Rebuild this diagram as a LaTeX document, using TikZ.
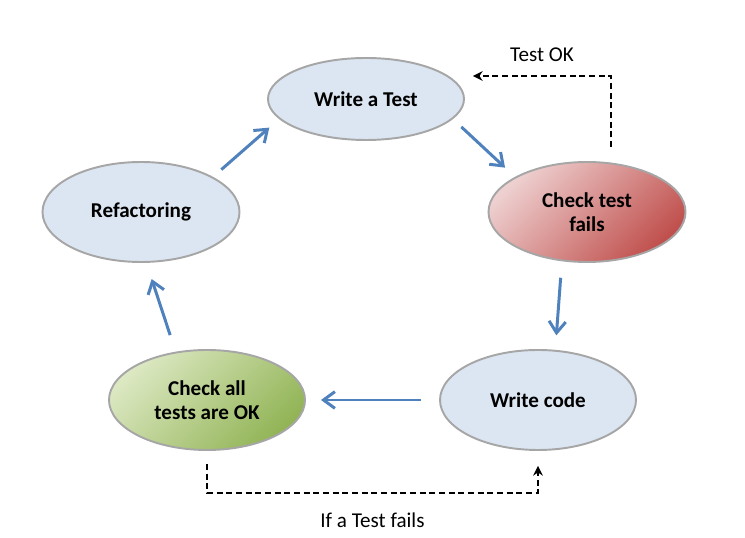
\documentclass[tikz,border=0pt]{standalone}
\usepackage{fontspec}
\setmainfont{Carlito}
\usetikzlibrary{shapes.geometric}
\usetikzlibrary{arrows.meta}
\definecolor{cycfill}{RGB}{220,230,242}
\definecolor{cycline}{RGB}{166,166,166}
\definecolor{flowblue}{RGB}{79,129,189}
\definecolor{redtop}{RGB}{238,208,208}
\definecolor{redbot}{RGB}{192,80,77}
\definecolor{greentop}{RGB}{220,232,194}
\definecolor{greenbot}{RGB}{146,180,86}
\tikzset{% 
    cyc/.style={ellipse,draw=cycline,line width=1.1pt,fill=cycfill,inner sep=0pt,minimum width=3.94cm,minimum height=2cm,align=center,font=\fontsize{12}{14}\selectfont\bfseries}
}

\begin{document}
\begin{tikzpicture}[font=\fontsize{12}{14}\selectfont,
    flw/.style={draw=flowblue,line width=1.7pt,-{Straight Barb[length=6.5pt,width=9.5pt]}},
    dsh/.style={line width=1.3pt,dash pattern=on 3.5pt off 2pt,-{Stealth[length=5.5pt,width=5.5pt]}}]
        \useasboundingbox (0,0) rectangle (14.9,10.74);
        \node[cyc,minimum width=3.92cm,minimum height=1.64cm] (1) at (7.32,8.76){Write a Test};
        \node[cyc,top color=redtop,bottom color=redbot,shading angle=45] (2) at (11.74,6.50){Check test\\fails};
        \node[cyc,minimum width=3.92cm] (3) at (10.76,2.74){Write code};
        \node[cyc,minimum width=3.92cm,top color=greentop,bottom color=greenbot,shading angle=45] (4) at (4.14,2.74){Check all\\tests are OK};
        \node[cyc] (5) at (2.82,6.50){Refactoring};

        \path[]
            (5.26) edge[flw,shorten <=0.22cm,shorten >=0.26cm] (1.-167)
            (1.-13) edge[flw,shorten <=0.23cm,shorten >=0.27cm] (2.154)
            (2.-117) edge[flw,shorten <=0.33cm,shorten >=0.29cm] (3.71)
            (3.west) edge[flw,shorten <=0.36cm,shorten >=0.3cm] (4.east)
            (4.123) edge[flw,shorten <=0.35cm,shorten >=0.34cm] (5.-84);

        \draw[dsh] ([xshift=0.48cm,yshift=0.28cm]2.north) |- node[pos=0.75,above=0.15cm] (l1){Test OK} ([xshift=0.16cm,yshift=0.46cm]1.east);
        \draw[dsh] ([yshift=-0.26cm]4.south) -- ++(0,-0.58) -| node[pos=0.25,below=0.25cm] (l2){If a Test fails} ([yshift=-0.3cm]3.south);
    \end{tikzpicture}
\end{document}
